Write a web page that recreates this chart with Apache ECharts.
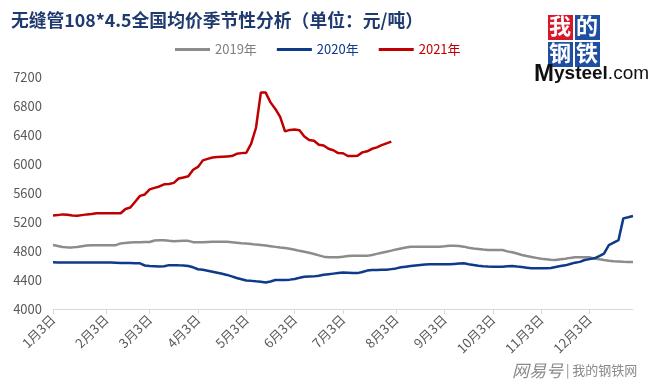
<!DOCTYPE html>
<html><head><meta charset="utf-8">
<script src="https://cdn.jsdelivr.net/npm/echarts@6/dist/echarts.min.js"></script>
<style>html,body{margin:0;padding:0;background:#fff}#c{width:660px;height:383px}</style>
</head><body><div id="c"></div>
<script>
var monthLabels = ['1月3日','2月3日','3月3日','4月3日','5月3日','6月3日','7月3日','8月3日','9月3日','10月3日','11月3日','12月3日'];
var monthStart = [0,11,20,30,40,50,60,71,81,91,101,111];
var pointCount = 121;

var s2019 = [4883,4870,4855,4850,4850,4855,4865,4875,4878,4878,4878,4878,4878,4880,4905,4912,4916,4920,4922,4924,
4925,4945,4947,4947,4940,4935,4938,4940,4940,4922,4920,4922,4925,4928,4929,4929,4928,4922,4915,4908,
4902,4895,4888,4883,4875,4866,4857,4848,4840,4830,4818,4802,4790,4775,4758,4740,4722,4713,4713,4713,
4722,4730,4735,4735,4733,4733,4745,4760,4775,4790,4805,4822,4835,4848,4858,4860,4860,4860,4860,4860,
4860,4866,4874,4872,4870,4860,4845,4835,4828,4820,4815,4814,4814,4814,4795,4782,4765,4745,4730,4718,
4705,4692,4686,4680,4676,4685,4694,4705,4713,4713,4713,4713,4695,4686,4675,4665,4660,4656,4652,4649,4648];

var s2020 = [4644,4643,4643,4642,4642,4641,4640,4640,4640,4640,4640,4640,4640,4638,4636,4635,4633,4631,4630,4600,
4592,4590,4586,4590,4605,4605,4602,4600,4592,4575,4548,4540,4528,4515,4500,4485,4470,4450,4428,4410,
4392,4388,4382,4377,4365,4380,4400,4400,4400,4405,4415,4430,4446,4448,4450,4460,4472,4480,4488,4495,
4502,4500,4496,4495,4510,4530,4538,4538,4540,4540,4550,4560,4575,4584,4592,4600,4608,4615,4616,4616,
4616,4616,4616,4622,4628,4630,4618,4608,4598,4590,4585,4584,4584,4584,4590,4593,4585,4578,4570,4562,
4562,4562,4562,4565,4580,4592,4602,4620,4639,4650,4676,4688,4699,4730,4765,4880,4915,4950,5250,5265,5283];

var s2021 = [5290,5295,5305,5300,5290,5285,5295,5305,5310,5320,5320,5320,5320,5320,5320,5380,5400,5480,5560,5580,
5650,5670,5690,5720,5725,5740,5800,5815,5830,5920,5960,6050,6070,6090,6095,6100,6105,6110,6140,6150,
6155,6280,6500,6985,6985,6850,6760,6650,6450,6470,6475,6465,6380,6330,6320,6265,6255,6210,6190,6150,
6148,6110,6110,6115,6160,6175,6210,6230,6260,6285,6308];

var yTicks = {min:4000, max:7200, interval:400};

var categories = [];
for (var i = 0; i < pointCount; i++) {
  var k = monthStart.indexOf(i);
  categories.push(k >= 0 ? monthLabels[k] : 'd' + i);
}
function isMonth(idx){ return monthStart.indexOf(idx) >= 0; }

var chart = echarts.init(document.getElementById('c'), null, {renderer:'canvas'});
var FONT = '"Noto Sans CJK SC","Noto Sans",sans-serif';
chart.setOption({
  animation:false,
  backgroundColor:'#fff',
  textStyle:{fontFamily:FONT},
  title:{
    text:'无缝管108*4.5全国均价季节性分析（单位：元/吨）',
    left:6, top:6,
    textStyle:{fontSize:17.8, fontWeight:'bold', color:'#1F3A6E', fontFamily:FONT}
  },
  legend:{
    top:38, left:170, itemWidth:35, itemHeight:3, itemGap:20,
    icon:'rect',
    textStyle:{fontSize:13, fontFamily:FONT},
    data:[
      {name:'2019年', textStyle:{color:'#7f7f7f'}},
      {name:'2020年', textStyle:{color:'#0E3A8A'}},
      {name:'2021年', textStyle:{color:'#C00000'}}
    ]
  },
  grid:{left:53, right:27, top:77, bottom:74},
  xAxis:{
    type:'category', boundaryGap:false, data:categories,
    axisLine:{lineStyle:{color:'#d9d9d9', width:1}},
    axisTick:{show:true, length:5, interval:function(i){return isMonth(i);}, lineStyle:{color:'#d9d9d9'}},
    axisLabel:{interval:function(i){return isMonth(i);}, rotate:45, fontSize:13, color:'#595959', margin:8, fontFamily:FONT},
    splitLine:{show:false}
  },
  yAxis:{
    type:'value', min:yTicks.min, max:yTicks.max, interval:yTicks.interval,
    axisLine:{show:false}, axisTick:{show:false}, splitLine:{show:false},
    axisLabel:{fontSize:13, color:'#595959', margin:11, fontFamily:FONT, formatter:function(v){return String(v);}}
  },
  series:[
    {name:'2019年', type:'line', data:s2019, showSymbol:false, symbol:'none', lineStyle:{width:2.5, color:'#8c8c8c'}, itemStyle:{color:'#8c8c8c'}},
    {name:'2020年', type:'line', data:s2020, showSymbol:false, symbol:'none', lineStyle:{width:2.5, color:'#0E3A8A'}, itemStyle:{color:'#0E3A8A'}},
    {name:'2021年', type:'line', data:s2021, showSymbol:false, symbol:'none', lineStyle:{width:2.5, color:'#C00000'}, itemStyle:{color:'#C00000'}}
  ],
  graphic:[
    {type:'rect', left:548, top:15, shape:{width:25, height:25}, style:{fill:'#D7182A'}},
    {type:'rect', left:575, top:15, shape:{width:25, height:25}, style:{fill:'#1E4FA0'}},
    {type:'rect', left:548, top:42, shape:{width:25, height:25}, style:{fill:'#1E4FA0'}},
    {type:'rect', left:575, top:42, shape:{width:25, height:25}, style:{fill:'#1E4FA0'}},
    {type:'text', left:549, top:15, style:{text:'我', fill:'#fff', font:'bold 22px "Noto Sans CJK SC"'}},
    {type:'text', left:576, top:15, style:{text:'的', fill:'#fff', font:'bold 22px "Noto Sans CJK SC"'}},
    {type:'text', left:549, top:42, style:{text:'钢', fill:'#fff', font:'bold 22px "Noto Sans CJK SC"'}},
    {type:'text', left:576, top:42, style:{text:'铁', fill:'#fff', font:'bold 22px "Noto Sans CJK SC"'}},
    {type:'text', left:534, top:62, style:{text:'{a|M}{b|ysteel}{c|.com}', fill:'#111',
      rich:{a:{fontSize:24, fontWeight:'bold', fontFamily:'Liberation Sans', fill:'#111'},
            b:{fontSize:19, fontWeight:'bold', fontFamily:'Liberation Sans', fill:'#111'},
            c:{fontSize:19, fontFamily:'Liberation Sans', fill:'#111'}}}},
    {type:'text', left:512, top:362, style:{text:'{a|网易号}{b| | 我的钢铁网}',
      rich:{a:{fontSize:17, fontStyle:'italic', fontFamily:FONT, fill:'#8a8a8a'},
            b:{fontSize:13, fontFamily:FONT, fill:'#8a8a8a'}}}}
  ]
});
</script></body></html>
